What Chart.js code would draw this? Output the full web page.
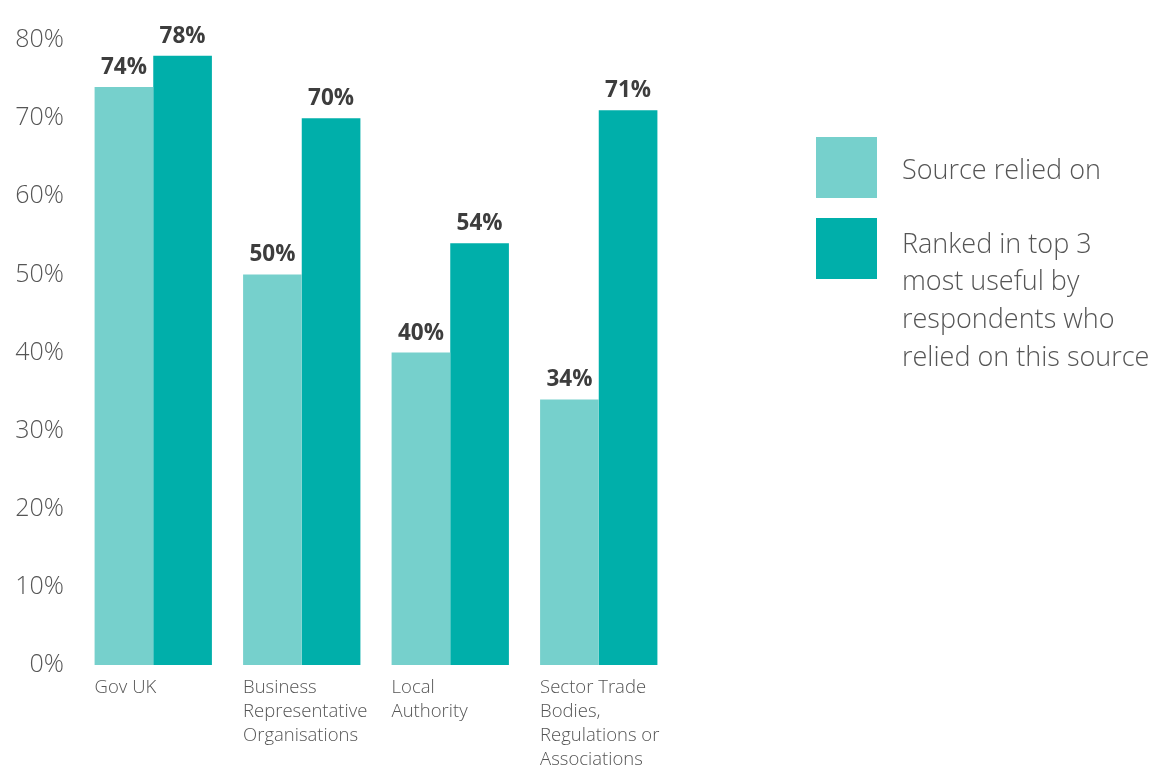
<!DOCTYPE html>
<html><head><meta charset="utf-8">
<script src="https://cdn.jsdelivr.net/npm/chart.js@4"></script>
<style>html,body{margin:0;padding:0;background:#fff;}#wrap{width:1153px;height:770px;position:relative;}</style>
</head><body><div id="wrap"><canvas id="c" width="1153" height="770"></canvas></div>
<script>
const categories = [["Gov UK"], ["Business", "Representative", "Organisations"], ["Local", "Authority"], ["Sector Trade", "Bodies,", "Regulations or", "Associations"]];
const seriesNames = ["Source relied on", "Ranked in top 3 most useful by respondents who relied on this source"];
const legendLines = [["Source relied on"], ["Ranked in top 3", "most useful by", "respondents who", "relied on this source"]];
const reliedOn = [74, 50, 40, 34];
const rankedTop3 = [78, 70, 54, 71];
const colors = ["#76d0cc", "#00afaa"];
const FONT = "'Open Sans', Lato, sans-serif";

const labelPlugin = {
  id: 'custom',
  afterDatasetsDraw(chart) {
    const ctx = chart.ctx;
    ctx.save();
    ctx.font = "bold 22.5px " + FONT;
    ctx.fillStyle = "#3d3d3d";
    ctx.textAlign = "center";
    ctx.textBaseline = "alphabetic";
    chart.data.datasets.forEach((ds, i) => {
      chart.getDatasetMeta(i).data.forEach((bar, j) => {
        ctx.fillText(ds.data[j] + "%", bar.x, bar.y - 13);
      });
    });
    const meta0 = chart.getDatasetMeta(0);
    ctx.font = "300 18.5px " + FONT;
    ctx.fillStyle = "#555";
    ctx.textAlign = "left";
    ctx.textBaseline = "middle";
    categories.forEach((lines, j) => {
      const bar = meta0.data[j];
      const left = bar.x - bar.width / 2;
      lines.forEach((ln, k) => ctx.fillText(ln, left, chart.chartArea.bottom + 23 + k * 24));
    });
    const lx = 816, box = 61;
    const tops = [137, 218];
    ctx.font = "300 27px " + FONT;
    legendLines.forEach((lines, i) => {
      ctx.fillStyle = colors[i];
      ctx.fillRect(lx, tops[i], box, box);
      ctx.fillStyle = "#555";
      const startY = i === 0 ? 171 : 245;
      lines.forEach((ln, k) => ctx.fillText(ln, 902, startY + k * 37.7));
    });
    ctx.restore();
  }
};

new Chart(document.getElementById('c'), {
  type: 'bar',
  data: {
    labels: categories,
    datasets: [
      { label: seriesNames[0], data: reliedOn, backgroundColor: colors[0], barPercentage: 1, categoryPercentage: 0.79 },
      { label: seriesNames[1], data: rankedTop3, backgroundColor: colors[1], barPercentage: 1, categoryPercentage: 0.79 }
    ]
  },
  options: {
    responsive: false,
    animation: false,
    layout: { padding: { top: 40, right: 480, bottom: 97, left: 0 } },
    plugins: { legend: { display: false }, tooltip: { enabled: false } },
    scales: {
      x: { grid: { display: false }, border: { display: false }, ticks: { display: false } },
      y: {
        min: 0, max: 80,
        grid: { display: false }, border: { display: false },
        afterFit(s) { s.width = 79; },
        ticks: { stepSize: 10, padding: 7, color: "#555", font: { family: FONT, size: 25, weight: 300 }, callback: v => v + "%" }
      }
    }
  },
  plugins: [labelPlugin]
});
</script></body></html>
